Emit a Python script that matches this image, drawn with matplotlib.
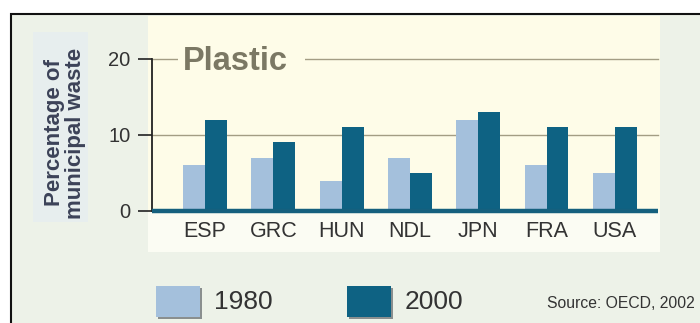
import matplotlib
matplotlib.use("Agg")
import matplotlib.pyplot as plt
from matplotlib import font_manager as fm
from matplotlib.patches import Rectangle
import numpy as np

# ---- data ----
categories = ["ESP", "GRC", "HUN", "NDL", "JPN", "FRA", "USA"]
values_1980 = [6, 7, 4, 7, 12, 6, 5]
values_2000 = [12, 9, 11, 5, 13, 11, 11]
series_labels = ["1980", "2000"]
y_ticks = [0, 10, 20]
title = "Plastic"
y_label = "Percentage of\nmunicipal waste"
source = "Source: OECD, 2002"


def pick(*names):
    for n in names:
        try:
            fm.findfont(fm.FontProperties(family=n), fallback_to_default=False)
            return n
        except Exception:
            pass
    return "DejaVu Sans"


NARROW = pick("Liberation Sans Narrow", "Arial Narrow", "Liberation Sans")
SANS = pick("Liberation Sans", "Arial", "DejaVu Sans")
is_narrow = "Narrow" in NARROW

W, H = 700, 323
fig = plt.figure(figsize=(7, 3.23), dpi=100)
fig.patch.set_facecolor("white")


def fx(px):
    return px / W


def fy(py):
    return 1 - py / H


def frect(x0, y0, x1, y1, **kw):
    r = Rectangle((fx(x0), fy(y1)), fx(x1) - fx(x0), fy(y0) - fy(y1),
                  transform=fig.transFigure, **kw)
    fig.patches.append(r)
    return r


# outer background with black frame (extends beyond the image on right/bottom)
frect(11, 14, 720, 340, facecolor="#edf2e8", edgecolor="#111111", lw=1.5, zorder=0)
# y-label box
frect(33, 32, 88, 222, facecolor="#e7eeee", edgecolor="none", zorder=0.2)
# chart panel
frect(148, 16, 660, 212, facecolor="#fefce8", edgecolor="none", zorder=0.2)
frect(148, 212, 660, 252, facecolor="#fbfcf3", edgecolor="none", zorder=0.2)

C1980 = "#a4c0dc"
C2000 = "#0e6283"
TXT = "#333333"

ax = fig.add_axes([fx(152), fy(211), fx(658) - fx(152), fy(58.5) - fy(211)])
ax.set_zorder(1)
ax.set_facecolor("none")
x = np.arange(len(categories))
bw = 0.32
ax.bar(x - bw / 2, values_1980, bw, color=C1980, zorder=2, label=series_labels[0])
ax.bar(x + bw / 2, values_2000, bw, color=C2000, zorder=2, label=series_labels[1])
ax.set_xlim(-0.776, len(categories) - 1 + 0.63)
ax.set_ylim(0, 20)

for v in y_ticks[1:]:
    ax.axhline(v, color="#a39d84", lw=1.0, zorder=1, clip_on=False)
ax.axhline(0, color="#15607e", lw=3.2, zorder=3, solid_capstyle="butt", clip_on=False)

for s in ["top", "right", "bottom"]:
    ax.spines[s].set_visible(False)
ax.spines["left"].set_color("#222222")
ax.spines["left"].set_linewidth(1.3)

tick_fs = 17 if is_narrow else 14.5
cat_fs = 18 if is_narrow else 15.5
ax.set_yticks(y_ticks)
ax.set_yticklabels([str(v) for v in y_ticks], fontsize=tick_fs, color=TXT, family=NARROW)
ax.tick_params(axis="y", length=10, width=1.2, color="#222222", pad=5.5)
ax.set_xticks(x)
ax.set_xticklabels(categories, fontsize=cat_fs, color=TXT, family=NARROW)
ax.tick_params(axis="x", length=0, pad=7)

# title with background to interrupt the gridline
frect(178, 48, 305, 70, facecolor="#fefce8", edgecolor="none", zorder=2)
fig.text(fx(183), fy(62), title, fontsize=23.5, fontweight="bold", color="#7b7864",
         family=SANS, ha="left", va="center", zorder=3)

# y label
fig.text(fx(65), fy(133), y_label, rotation=90, ha="center", va="center",
         multialignment="center", fontsize=16, fontweight="bold", color="#3c4258",
         family=SANS, linespacing=0.95)

# legend
leg_fs = 22 if is_narrow else 19
for (x0, col, lab) in [(156, C1980, series_labels[0]), (347, C2000, series_labels[1])]:
    frect(x0 + 2, 288, x0 + 46, 319, facecolor="#8a8f8f", edgecolor="none", zorder=2)
    frect(x0, 286, x0 + 44, 317, facecolor=col, edgecolor="none", zorder=3)
    fig.text(fx(x0 + 58), fy(302), lab, fontsize=leg_fs, color=TXT, family=NARROW,
             ha="left", va="center")

fig.text(fx(547), fy(304), source, fontsize=11.3, color=TXT, family=SANS,
         ha="left", va="center")

fig.savefig("out.png", dpi=100, facecolor=fig.get_facecolor())
